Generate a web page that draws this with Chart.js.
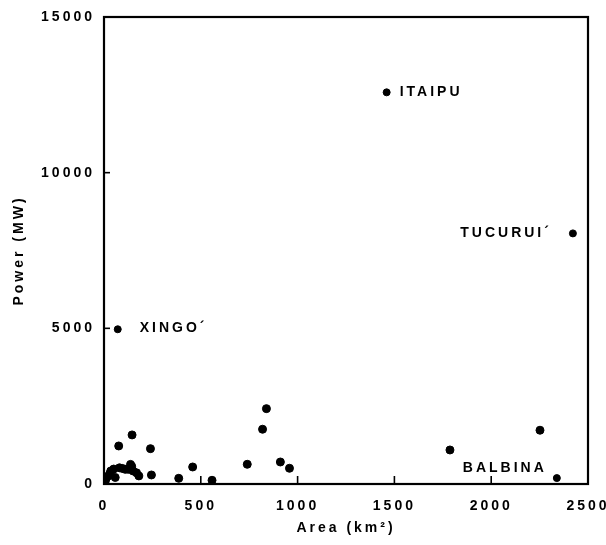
<!DOCTYPE html>
<html><head><meta charset="utf-8">
<script src="https://cdn.jsdelivr.net/npm/chart.js@4.4.0/dist/chart.umd.min.js"></script>
<style>html,body{margin:0;padding:0;background:#fff}#wrap{width:606px;height:545px}</style>
</head><body><div id="wrap"><canvas id="c" width="606" height="545"></canvas></div>
<script>
// Unlabelled reservoirs: area (km²) and installed power (MW)
const area  = [5, 10, 20, 30, 35, 50, 58, 80, 95, 110, 126, 137, 143, 150, 168, 180, 76, 145, 240, 245, 386, 458, 558, 740, 819, 839, 911, 958, 1787, 2252];
const power = [50, 160, 250, 330, 420, 480, 210, 520, 500, 470, 470, 630, 570, 420, 360, 260, 1222, 1576, 1135, 290, 183, 547, 119, 633, 1759, 2421, 707, 505, 1093, 1727];
// Labelled reservoirs
const namedSites = ['ITAIPU', 'TUCURUI\u00B4', 'XINGO\u00B4', 'BALBINA'];
const namedArea  = [1460, 2422, 71, 2339];
const namedPower = [12580, 8050, 4970, 190];
// Tick values
const xTicks = [0, 500, 1000, 1500, 2000, 2500];
const yTicks = [0, 5000, 10000, 15000];

// label placement (style only)
const labelPlacement = {
  'ITAIPU':      {dx: 13,  dy: 0,   align: 'left'},
  'TUCURUI\u00B4': {dx: -21, dy: 0,   align: 'right'},
  'XINGO\u00B4':   {dx: 22,  dy: -1,  align: 'left'},
  'BALBINA':     {dx: -10, dy: -10, align: 'right'}
};

const FONT = "'Liberation Sans', Arial, sans-serif";

const framePlugin = {
  id: 'frame',
  beforeDraw(chart) {
    const ctx = chart.ctx;
    ctx.save();
    ctx.fillStyle = '#fff';
    ctx.fillRect(0, 0, chart.width, chart.height);
    ctx.restore();
    ctx.letterSpacing = '3px';
  },
  afterDraw(chart) {
    const {ctx, chartArea: a, scales: {x, y}} = chart;
    ctx.save();
    ctx.strokeStyle = '#000';
    ctx.lineWidth = 2.2;
    ctx.strokeRect(a.left, a.top, a.right - a.left, a.bottom - a.top);
    ctx.lineWidth = 1.6;
    xTicks.slice(1, -1).forEach(v => {
      const px = x.getPixelForValue(v);
      ctx.beginPath(); ctx.moveTo(px, a.bottom); ctx.lineTo(px, a.bottom - 8); ctx.stroke();
    });
    yTicks.slice(1, -1).forEach(v => {
      const py = y.getPixelForValue(v);
      ctx.beginPath(); ctx.moveTo(a.left, py); ctx.lineTo(a.left + 6, py); ctx.stroke();
    });
    const meta = chart.getDatasetMeta(1);
    ctx.fillStyle = '#000';
    ctx.font = 'bold 14px ' + FONT;
    ctx.letterSpacing = '3px';
    ctx.textBaseline = 'middle';
    namedSites.forEach((name, i) => {
      const p = meta.data[i];
      const pl = labelPlacement[name];
      ctx.textAlign = pl.align;
      ctx.fillText(name, p.x + pl.dx, p.y + pl.dy);
    });
    ctx.restore();
  }
};

new Chart(document.getElementById('c'), {
  type: 'scatter',
  data: {
    datasets: [
      {
        data: area.map((a, i) => ({x: a, y: power[i]})),
        backgroundColor: '#000', borderColor: '#000',
        pointRadius: 4, pointHoverRadius: 4
      },
      {
        data: namedArea.map((a, i) => ({x: a, y: namedPower[i]})),
        backgroundColor: '#000', borderColor: '#000',
        pointRadius: 3.5, pointHoverRadius: 3.5
      }
    ]
  },
  options: {
    responsive: false,
    animation: false,
    events: [],
    layout: {padding: {top: 17, right: 18, left: 0, bottom: 0}},
    plugins: {legend: {display: false}, tooltip: {enabled: false}},
    scales: {
      x: {
        type: 'linear', min: 0, max: 2500,
        afterBuildTicks: s => { s.ticks = xTicks.map(v => ({value: v})); },
        afterFit: s => { s.height = 61; s.paddingLeft = 0; s.paddingRight = 0; },
        grid: {display: false, drawTicks: false},
        border: {display: false},
        ticks: {color: '#000', padding: 14, maxRotation: 0, autoSkip: false,
                font: {family: FONT, size: 14, weight: 'bold'}, callback: v => String(v)},
        title: {display: true, text: 'Area (km\u00B2)', color: '#000', padding: {top: 4, bottom: 8},
                font: {family: FONT, size: 14, weight: 'bold'}}
      },
      y: {
        type: 'linear', min: 0, max: 15000,
        afterBuildTicks: s => { s.ticks = yTicks.map(v => ({value: v})); },
        afterFit: s => { s.width = 104; s.paddingTop = 0; s.paddingBottom = 0; },
        grid: {display: false, drawTicks: false},
        border: {display: false},
        ticks: {color: '#000', padding: 9, autoSkip: false,
                font: {family: FONT, size: 14, weight: 'bold'}, callback: v => String(v)},
        title: {display: true, text: 'Power (MW)', color: '#000', padding: {top: 11, bottom: 0},
                font: {family: FONT, size: 14, weight: 'bold'}}
      }
    }
  },
  plugins: [framePlugin]
});
</script></body></html>
